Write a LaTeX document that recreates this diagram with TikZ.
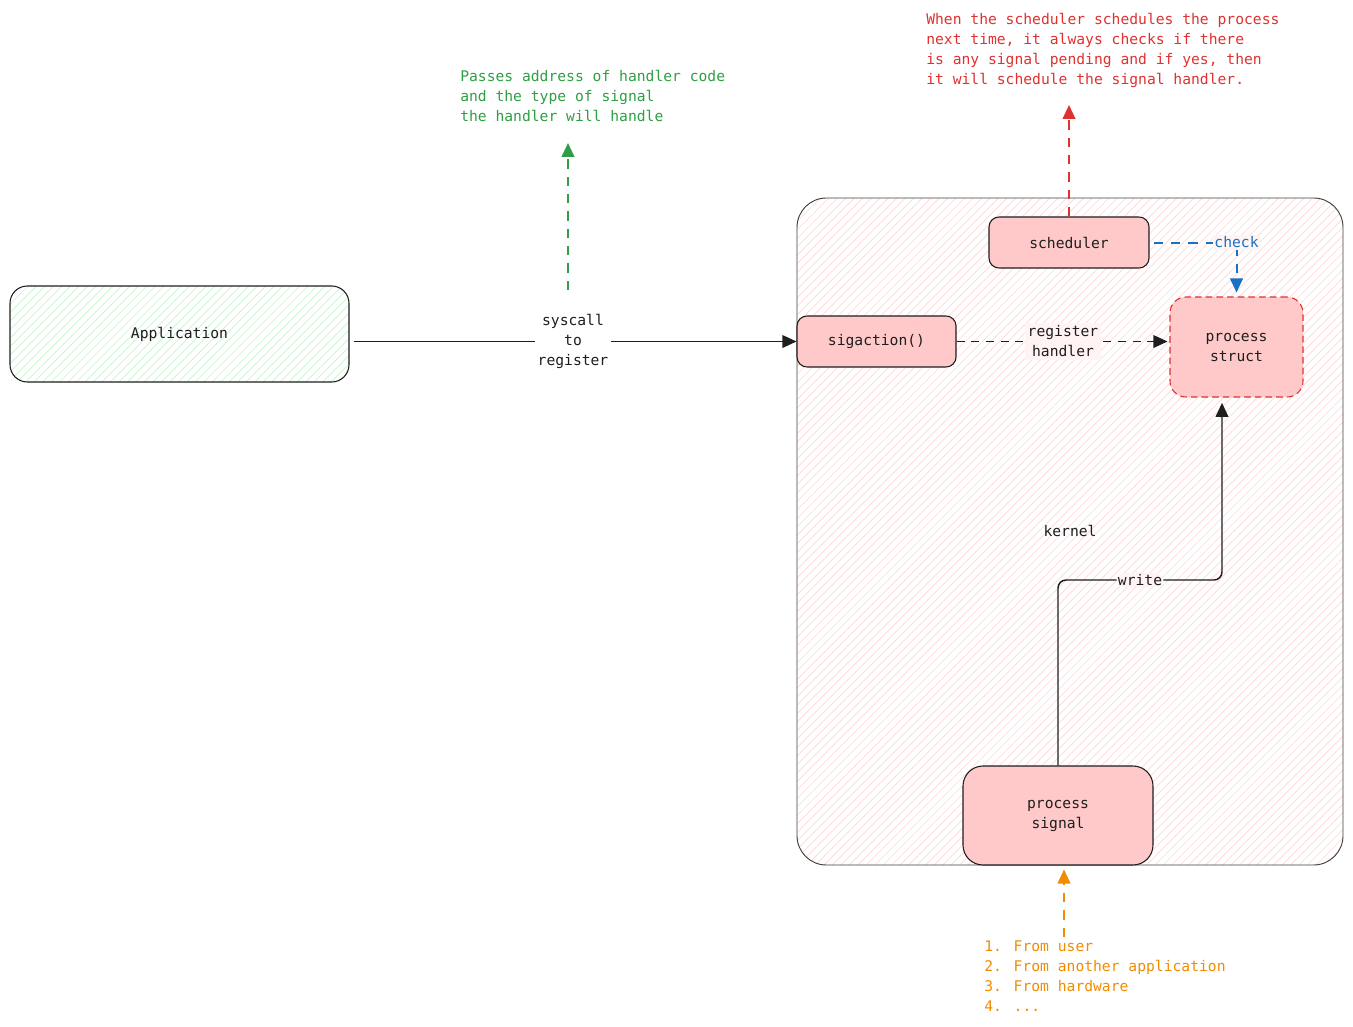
\documentclass[tikz,border=0pt]{standalone}
\usepackage{fontspec}
\setmainfont{DejaVu Sans Mono}
\usetikzlibrary{arrows.meta, patterns.meta, calc}
\definecolor{encre}{HTML}{1E1E1E}
\definecolor{rosefond}{HTML}{FFC9C9}
\definecolor{vertfond}{HTML}{B2F2BB}
\definecolor{notevert}{HTML}{2F9E44}
\definecolor{noterouge}{HTML}{E03131}
\definecolor{noteorange}{HTML}{F08C00}
\definecolor{notebleu}{HTML}{1971C2}
\colorlet{fondlabel}{rosefond!22}

\begin{document}
\begin{tikzpicture}[x=0.75pt, y=-0.75pt, >={Triangle[length=10.5pt, width=9.5pt]},
  every node/.style={font=\fontsize{11}{15}\selectfont},
  boite/.style={draw=encre, line width=0.8pt, fill=rosefond, rounded corners=7.5pt,
    align=center, inner sep=0pt, text=encre},
  hachure/.style={preaction={fill=white}, pattern={Lines[angle=45, distance=4.5pt, line width=0.5pt]}},
  fleche/.style={->, draw=encre, line width=0.8pt},
  pointille/.style={dash pattern=on 6pt off 5pt},
  note/.style={->, line width=1.5pt, dash pattern=on 7pt off 6pt},
  etiq/.style={align=center, inner sep=2pt, text=encre},
  texte/.style={align=left, anchor=north west, inner sep=0pt}]

  % === CADRE ===
  \useasboundingbox (0,0) rectangle (1353,1027);

  % === NOYAU (fond) ===
  \draw[hachure, pattern color=rosefond!75, draw=encre!85, line width=0.7pt, rounded corners=22pt]
    (797,198) rectangle (1343,865);
  \node[text=encre] (kern) at (1070,531) {kernel};

  % === BOITES ===
  \node[boite, hachure, pattern color=vertfond!75, rounded corners=13pt,
    minimum width=254.25pt, minimum height=72pt] (app) at (179.5,334) {Application};
  \node[boite, minimum width=120pt, minimum height=38.25pt] (sched) at (1069,242.5) {scheduler};
  \node[boite, minimum width=119.25pt, minimum height=38.25pt] (sigact) at (876.5,341.5) {sigaction()};
  \node[boite, draw=noterouge, dash pattern=on 5pt off 3pt, rounded corners=12pt,
    minimum width=99.75pt, minimum height=75pt] (pstruct) at (1236.5,347) {process\\struct};
  \node[boite, rounded corners=15pt, minimum width=142.5pt, minimum height=74.25pt]
    (psignal) at (1058,815.5) {process\\signal};

  % === NOTES ===
  \node[texte, text=noterouge] (nrouge) at (926,13)
    {When the scheduler schedules the process\\next time, it always checks if there\\is any signal pending and if yes, then\\it will schedule the signal handler.};
  \node[texte, text=notevert] (nvert) at (460,70)
    {Passes address of handler code\\and the type of signal\\the handler will handle};
  \node[texte, text=noteorange] (norange) at (984,941)
    {1. From user\\2. From another application\\3. From hardware\\4. ...};

  \coordinate (rougebout) at (1069,105);
  \coordinate (vertdebut) at (568,290);
  \coordinate (vertbout) at (568,143);
  \coordinate (orangedebut) at (1064,937);
  \coordinate (wcoude) at (1222,580);

  % === FLECHES ===
  \draw[fleche, shorten <=3pt] (app.east |- sigact.west) --
    node[etiq, fill=white] (sysl) {syscall\\to\\register} (sigact.west);
  \draw[fleche, pointille, shorten >=1.5pt] (sigact.east) --
    node[etiq, fill=fondlabel] (regl) {register\\handler} (sigact.east -| pstruct.west);
  \draw[note, notebleu, shorten <=3pt, shorten >=3pt] (sched.east) -|
    node[pos=0.5, etiq, text=notebleu, fill=fondlabel, inner sep=1pt] (chk) {check} (pstruct.north);
  \draw[fleche, line width=1.1pt, rounded corners=6pt, shorten >=4pt] (psignal.north) |-
    node[pos=0.75, etiq, fill=fondlabel, inner sep=1pt] (wrl) {write} (wcoude) -- (wcoude |- pstruct.south);

  % notes
  \draw[note, noterouge] (sched.north) -- (rougebout);
  \draw[note, notevert] (vertdebut) -- (vertbout);
  \draw[note, noteorange, shorten >=3pt] (orangedebut) -- (orangedebut |- psignal.south);

\end{tikzpicture}
\end{document}
